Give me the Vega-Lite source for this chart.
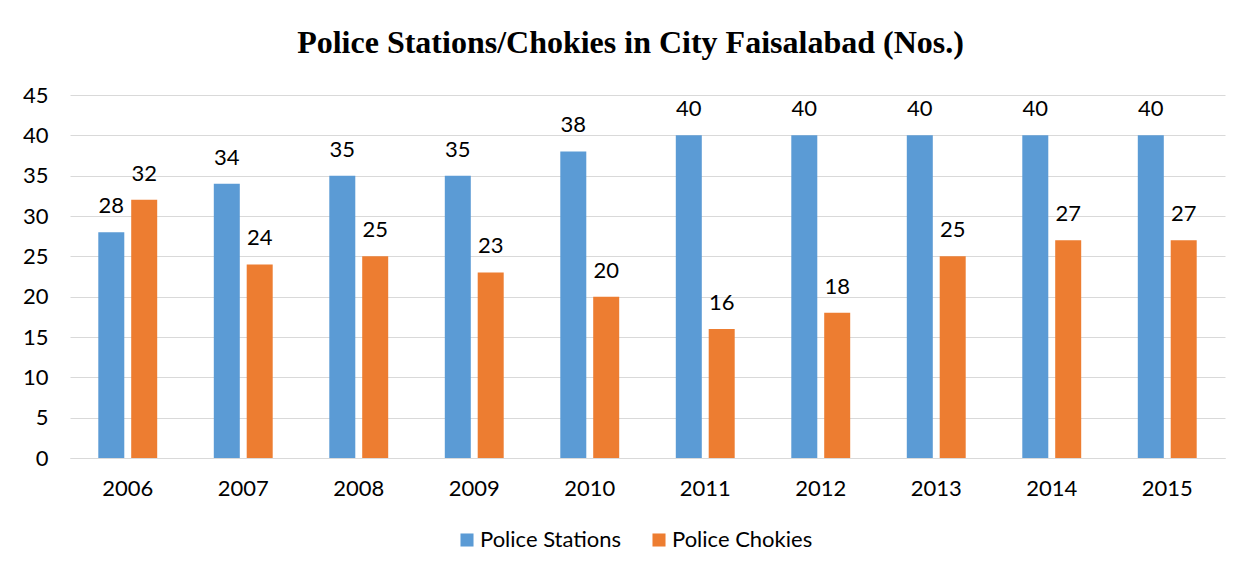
{
  "$schema": "https://vega.github.io/schema/vega-lite/v6.json",
  "width": 1155,
  "height": 363,
  "autosize": {"type": "none"},
  "padding": {"left": 70, "top": 95, "right": 25, "bottom": 120},
  "background": "white",
  "title": {
    "text": "Police Stations/Chokies in City Faisalabad (Nos.)",
    "font": "Liberation Serif",
    "fontSize": 32,
    "fontWeight": "bold",
    "color": "#000000",
    "anchor": "middle",
    "dx": -17,
    "offset": 24
  },
  "data": {
    "values": [
      {"year": "2006", "series": "Police Stations", "value": 28},
      {"year": "2006", "series": "Police Chokies", "value": 32},
      {"year": "2007", "series": "Police Stations", "value": 34},
      {"year": "2007", "series": "Police Chokies", "value": 24},
      {"year": "2008", "series": "Police Stations", "value": 35},
      {"year": "2008", "series": "Police Chokies", "value": 25},
      {"year": "2009", "series": "Police Stations", "value": 35},
      {"year": "2009", "series": "Police Chokies", "value": 23},
      {"year": "2010", "series": "Police Stations", "value": 38},
      {"year": "2010", "series": "Police Chokies", "value": 20},
      {"year": "2011", "series": "Police Stations", "value": 40},
      {"year": "2011", "series": "Police Chokies", "value": 16},
      {"year": "2012", "series": "Police Stations", "value": 40},
      {"year": "2012", "series": "Police Chokies", "value": 18},
      {"year": "2013", "series": "Police Stations", "value": 40},
      {"year": "2013", "series": "Police Chokies", "value": 25},
      {"year": "2014", "series": "Police Stations", "value": 40},
      {"year": "2014", "series": "Police Chokies", "value": 27},
      {"year": "2015", "series": "Police Stations", "value": 40},
      {"year": "2015", "series": "Police Chokies", "value": 27}
    ]
  },
  "encoding": {
    "x": {
      "field": "year", "type": "nominal", "title": null,
      "scale": {"paddingInner": 0.49, "paddingOuter": 0.245},
      "axis": {"labelAngle": 0, "ticks": false, "domainColor": "#d9d9d9", "labelPadding": 20, "labelFontSize": 22, "labelFont": "Lato", "labelColor": "#000000"}
    },
    "xOffset": {
      "field": "series", "type": "nominal",
      "sort": ["Police Stations", "Police Chokies"],
      "scale": {"paddingInner": 0.21, "paddingOuter": 0}
    },
    "y": {
      "field": "value", "type": "quantitative", "title": null,
      "scale": {"domain": [0, 45]},
      "axis": {"values": [0,5,10,15,20,25,30,35,40,45], "domain": false, "ticks": false, "gridColor": "#d9d9d9", "labelPadding": 22, "labelFontSize": 22, "labelFont": "Lato", "labelColor": "#000000"}
    }
  },
  "layer": [
    {
      "mark": {"type": "bar"},
      "encoding": {
        "color": {
          "field": "series", "type": "nominal",
          "sort": ["Police Stations", "Police Chokies"],
          "scale": {"domain": ["Police Stations", "Police Chokies"], "range": ["#5b9bd5", "#ed7d31"]},
          "legend": {
            "title": null, "orient": "none", "direction": "horizontal",
            "legendX": 386, "legendY": 434,
            "symbolType": "square", "symbolSize": 170, "symbolStrokeWidth": 0,
            "labelFontSize": 22, "labelFont": "Lato", "labelColor": "#000000",
            "columnPadding": 26, "labelOffset": 2
          }
        }
      }
    },
    {
      "mark": {"type": "text", "dy": -26, "fontSize": 22, "font": "Lato", "color": "#000000"},
      "encoding": {"text": {"field": "value", "type": "quantitative"}}
    }
  ],
  "config": {"view": {"stroke": null}}
}
